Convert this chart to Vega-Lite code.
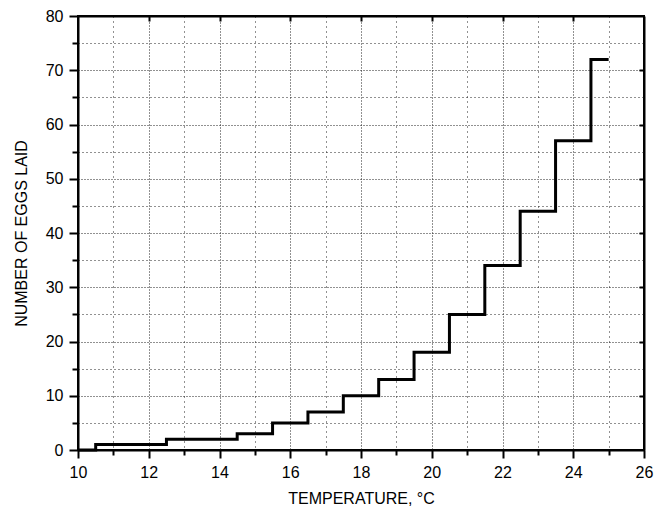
{
  "$schema": "https://vega.github.io/schema/vega-lite/v6.json",
  "width": 566,
  "height": 434,
  "autosize": "none",
  "padding": {"left": 78, "top": 16, "right": 14, "bottom": 58},
  "background": "white",
  "config": {
    "view": {"stroke": "black", "strokeWidth": 2},
    "font": "Liberation Sans",
    "axis": {
      "labelFont": "Liberation Sans",
      "titleFont": "Liberation Sans",
      "labelFontSize": 16,
      "titleFontSize": 16,
      "titleFontWeight": "normal",
      "labelColor": "black",
      "titleColor": "black",
      "domainColor": "black",
      "domainWidth": 2,
      "tickColor": "black",
      "tickWidth": 2
    }
  },
  "data": {
    "values": [
      {"T": 10, "N": 0},
      {"T": 10.5, "N": 1},
      {"T": 12.5, "N": 2},
      {"T": 14.5, "N": 3},
      {"T": 15.5, "N": 5},
      {"T": 16.5, "N": 7},
      {"T": 17.5, "N": 10},
      {"T": 18.5, "N": 13},
      {"T": 19.5, "N": 18},
      {"T": 20.5, "N": 25},
      {"T": 21.5, "N": 34},
      {"T": 22.5, "N": 44},
      {"T": 23.5, "N": 57},
      {"T": 24.5, "N": 72},
      {"T": 25, "N": 72}
    ]
  },
  "layer": [
    {
      "mark": {"type": "line", "interpolate": "step-after", "color": "black", "strokeWidth": 3},
      "encoding": {
        "x": {
          "field": "T", "type": "quantitative",
          "scale": {"domain": [10, 26], "nice": false, "zero": false},
          "axis": {
            "orient": "bottom",
            "title": "TEMPERATURE, °C",
            "values": [10,11,12,13,14,15,16,17,18,19,20,21,22,23,24,25,26],
            "labelExpr": "datum.value % 2 === 0 ? datum.label : ''",
            "labelFlush": false,
            "labelOverlap": false,
            "tickSize": {"condition": {"test": "datum.value % 2 === 0", "value": 8}, "value": 5},
            "labelPadding": 6,
            "titlePadding": 10,
            "grid": true,
            "gridColor": "#222222",
            "gridDash": {"condition": {"test": "datum.value % 2 === 0", "value": [1, 2]}, "value": [1, 4]},
            "gridWidth": 1
          }
        },
        "y": {
          "field": "N", "type": "quantitative",
          "scale": {"domain": [0, 80], "nice": false},
          "axis": {
            "orient": "left",
            "title": "NUMBER OF EGGS LAID",
            "values": [0,5,10,15,20,25,30,35,40,45,50,55,60,65,70,75,80],
            "labelExpr": "datum.value % 10 === 0 ? datum.label : ''",
            "labelFlush": false,
            "labelOverlap": false,
            "tickSize": {"condition": {"test": "datum.value % 10 === 0", "value": 9}, "value": 6},
            "labelPadding": 6,
            "titlePadding": 16,
            "grid": true,
            "gridColor": "#222222",
            "gridDash": {"condition": {"test": "datum.value % 10 === 0", "value": [1, 2]}, "value": [1, 3]},
            "gridWidth": 1
          }
        }
      }
    },
    {
      "mark": {"type": "point", "opacity": 0},
      "encoding": {
        "x": {
          "field": "T", "type": "quantitative",
          "axis": {
            "orient": "top", "title": null, "labels": false, "grid": false,
            "values": [12,14,16,18,20,22,24],
            "tickSize": -5
          }
        },
        "y": {
          "field": "N", "type": "quantitative",
          "axis": {
            "orient": "right", "title": null, "labels": false, "grid": false,
            "values": [10,20,30,40,50,60,70],
            "tickSize": -5
          }
        }
      }
    }
  ],
  "resolve": {"axis": {"x": "independent", "y": "independent"}}
}
